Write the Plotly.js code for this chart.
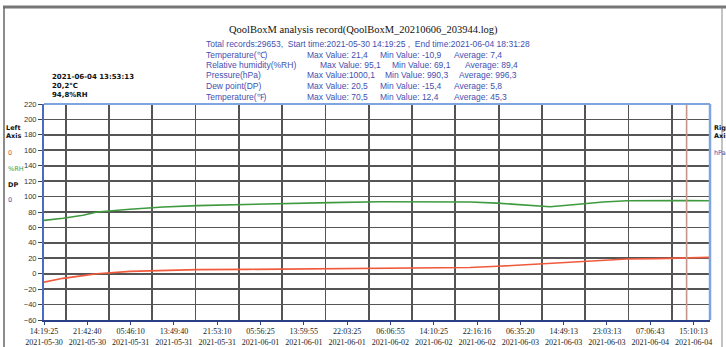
<!DOCTYPE html>
<html>
<head>
<meta charset="utf-8">
<script src="https://cdn.plot.ly/plotly-3.0.1.min.js"></script>
<style>html,body{margin:0;padding:0;background:#fff;}#chart{width:726px;height:347px;}</style>
</head>
<body>
<div id="chart"></div>
<script>
// ---- data (x = record number in the log) ----
const recordIndex = [0, 846, 1737, 2360, 3830, 5299, 6813, 9039, 11266, 12736, 14962, 18213, 18970, 20172, 21196, 22532, 23423, 24892, 25961, 27297, 28455, 29652];
const temperatureC = [-10.9, -6.0, -2.5, 0.0, 3.0, 4.6, 5.3, 5.6, 6.0, 6.4, 7.0, 6.9, 8.0, 9.6, 11.3, 13.4, 14.8, 17.2, 19.0, 19.6, 20.2, 21.2];
const humidityRH = [69.1, 71.8, 75.7, 80.0, 83.5, 86.5, 88.3, 90.0, 91.3, 92.2, 93.3, 93.0, 93.0, 91.5, 89.5, 86.8, 89.0, 93.0, 94.5, 95.1, 94.8, 94.5];
const tickRecords = [0, 1928, 3856, 5784, 7712, 9640, 11568, 13496, 15424, 17352, 19280, 21208, 23136, 25064, 26992, 28920];
const tickTimes = ["14:19:25","21:42:40","05:46:10","13:49:40","21:53:10","05:56:25","13:59:55","22:03:25","06:06:55","14:10:25","22:16:16","06:35:20","14:49:13","23:03:13","07:06:43","15:10:13"];
const tickDates = ["2021-05-30","2021-05-30","2021-05-31","2021-05-31","2021-05-31","2021-06-01","2021-06-01","2021-06-01","2021-06-02","2021-06-02","2021-06-02","2021-06-03","2021-06-03","2021-06-03","2021-06-04","2021-06-04"];
const gridRecords = [964, 2892, 4820, 6748, 8676, 10604, 12532, 14460, 16388, 18316, 20244, 22172, 24100, 26028, 27956];
const cursorRecord = 28610;
const cursorLabel = ["2021-06-04 13:53:13", "20,2°C", "94,8%RH"];
const titleText = "QoolBoxM analysis record(QoolBoxM_20210606_203944.log)";
const summaryLine = "Total records:29653,  Start time:2021-05-30 14:19:25 ,  End time:2021-06-04 18:31:28";
const statNames = ["Temperature(℃)", "Relative humidity(%RH)", "Pressure(hPa)", "Dew point(DP)", "Temperature(℉)"];
const statMax = ["Max Value: 21,4", "Max Value: 95,1", "Max Value:1000,1", "Max Value: 20,5", "Max Value: 70,5"];
const statMin = ["Min Value: -10,9", "Min Value: 69,1", "Min Value: 990,3", "Min Value: -15,4", "Min Value: 12,4"];
const statAvg = ["Average: 7,4", "Average: 89,4", "Average: 996,3", "Average: 5,8", "Average: 45,3"];

// ---- layout helpers (pixel -> paper) ----
const L = 44, R = 710, T = 104, B = 320;
const px = x => (x - L) / (R - L);
const py = y => (B - y) / (B - T);

const blue = "#3f51b0";
const ann = [];
ann.push({text: titleText, x: px(363), y: py(30), xanchor: "center", font: {family: "Liberation Serif", size: 10.5, color: "#111"}});
ann.push({text: summaryLine, x: px(204), y: py(44), xanchor: "left", font: {family: "Liberation Sans", size: 8.5, color: blue}});
const rowY = [55, 65, 75, 86, 97];
const maxX = [305, 318, 305, 305, 305];
const minX = [378, 390, 383, 378, 378];
const avgX = [452, 463, 457, 452, 452];
for (let i = 0; i < 5; i++) {
  const f = {family: "Liberation Sans", size: 8.5, color: blue};
  ann.push({text: statNames[i], x: px(204), y: py(rowY[i]), xanchor: "left", font: f});
  ann.push({text: statMax[i], x: px(maxX[i]), y: py(rowY[i]), xanchor: "left", font: f});
  ann.push({text: statMin[i], x: px(minX[i]), y: py(rowY[i]), xanchor: "left", font: f});
  ann.push({text: statAvg[i], x: px(avgX[i]), y: py(rowY[i]), xanchor: "left", font: f});
}
ann.push({text: "<b>" + cursorLabel.join("<br>") + "</b>", x: px(50), y: py(86), xanchor: "left", align: "left", font: {family: "DejaVu Sans", size: 7, color: "#111"}});
const lf = {family: "DejaVu Sans", size: 6.5};
ann.push({text: "<b>Left<br>Axis</b>", x: px(4), y: py(132), xanchor: "left", align: "left", font: Object.assign({}, lf, {color: "#111"})});
ann.push({text: "0", x: px(6), y: py(153), xanchor: "left", font: Object.assign({}, lf, {color: "#e0553a"})});
ann.push({text: "%RH", x: px(6), y: py(169), xanchor: "left", font: Object.assign({}, lf, {color: "#3a9a3a"})});
ann.push({text: "<b>DP</b>", x: px(6), y: py(185), xanchor: "left", font: Object.assign({}, lf, {color: "#111"})});
ann.push({text: "0", x: px(6), y: py(200), xanchor: "left", font: Object.assign({}, lf, {color: blue})});
ann.push({text: "<b>Right<br>Axis</b>", x: px(712), y: py(132), xanchor: "left", align: "left", font: Object.assign({}, lf, {color: "#111"})});
ann.push({text: "hPa", x: px(712), y: py(153), xanchor: "left", font: Object.assign({}, lf, {color: blue})});
ann.forEach(a => { a.xref = "paper"; a.yref = "paper"; a.yanchor = "middle"; a.showarrow = false; });

const traces = [
  {x: recordIndex, y: humidityRH, type: "scatter", mode: "lines", line: {color: "#3f9a3f", width: 1.6}, hoverinfo: "skip"},
  {x: recordIndex, y: temperatureC, type: "scatter", mode: "lines", line: {color: "#f05a3c", width: 1.6}, hoverinfo: "skip"}
];

const layout = {
  width: 726, height: 347,
  margin: {l: L, r: 726 - R, t: T, b: 347 - B, pad: 0},
  paper_bgcolor: "#fff", plot_bgcolor: "#fff",
  showlegend: false,
  xaxis: {
    range: [0, 29652], tickmode: "array", tickvals: tickRecords,
    ticktext: tickTimes.map((t, i) => t + "<br>" + tickDates[i]),
    tickfont: {family: "Liberation Serif", size: 8, color: "#222"},
    showgrid: false, zeroline: false,
    showline: true, linecolor: "#2b3f86", linewidth: 1.5,
    ticks: "outside", ticklen: 3, tickcolor: "#2b3f86", tickwidth: 1,
    minor: {tickmode: "array", tickvals: gridRecords, showgrid: true, gridcolor: "#555", gridwidth: 1.8, ticks: ""}
  },
  yaxis: {
    range: [-60, 220], tickmode: "linear", tick0: -60, dtick: 20,
    tickfont: {family: "Liberation Sans Narrow, Liberation Sans", size: 7.5, color: "#333"},
    showgrid: true, gridcolor: "#555", gridwidth: 1.8, zeroline: false,
    showline: true, linecolor: "#4a6cc0", linewidth: 2,
    ticks: "outside", ticklen: 4, tickcolor: "#444", tickwidth: 1
  },
  shapes: [
    {type: "line", xref: "x", yref: "paper", x0: cursorRecord, x1: cursorRecord, y0: 0, y1: 1, line: {color: "#c4958a", width: 1.6}},
    {type: "line", xref: "paper", yref: "paper", x0: 0, x1: 1, y0: 1, y1: 1, line: {color: "#7fa4e0", width: 2}},
    {type: "line", xref: "paper", yref: "paper", x0: 1, x1: 1, y0: 0, y1: 1, line: {color: "#7fa4e0", width: 2.5}},
    {type: "line", xref: "paper", yref: "paper", x0: px(3), x1: px(726), y0: py(7), y1: py(7), line: {color: "#777", width: 3}},
    {type: "line", xref: "paper", yref: "paper", x0: px(4), x1: px(4), y0: py(7), y1: py(347), line: {color: "#666", width: 1.5}},
    {type: "line", xref: "paper", yref: "paper", x0: px(722), x1: px(722), y0: py(7), y1: py(347), line: {color: "#888", width: 1}}
  ],
  annotations: ann
};

Plotly.newPlot("chart", traces, layout, {staticPlot: true, displayModeBar: false});
</script>
</body>
</html>
